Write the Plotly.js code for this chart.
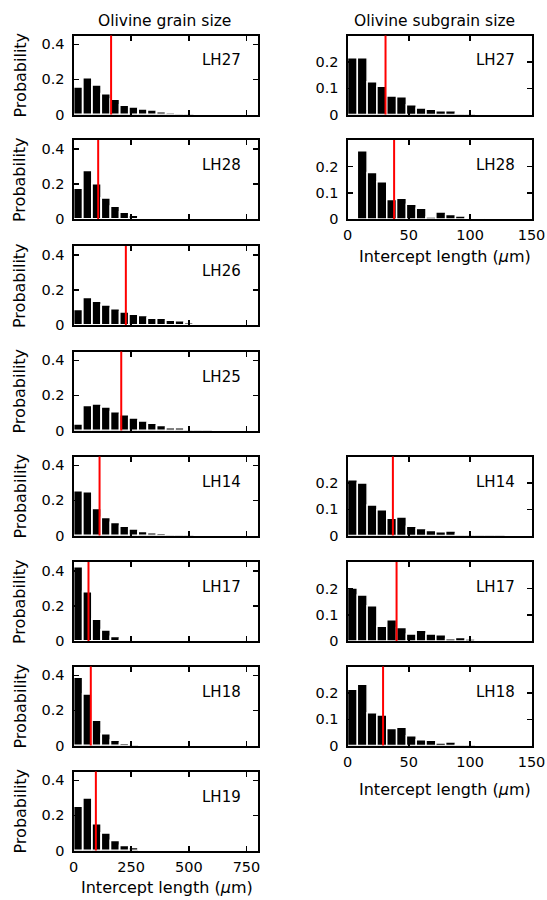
<!DOCTYPE html>
<html><head><meta charset="utf-8">
<script src="https://cdn.plot.ly/plotly-3.0.1.min.js"></script>
<style>html,body{margin:0;padding:0;background:#fff}</style>
</head><body><div id="chart" style="width:547px;height:900px"></div>
<script>
// ---- data ----
const grainBins = [20,60,100,140,180,220,260,300,340,380,420,460,500,540,580,620,660,700];
const subgrainBins = [4,12,20,28,36,44,52,60,68,76,84,92,100,108,116,124,132,140];

const grainSamples = ['LH27','LH28','LH26','LH25','LH14','LH17','LH18','LH19'];
const grainLH27 = [0.158,0.210,0.169,0.119,0.088,0.054,0.043,0.032,0.027,0.017,0.012,0.011,0.004];
const grainLH28 = [0.176,0.277,0.201,0.120,0.073,0.040,0.022,0.010,0.005];
const grainLH26 = [0.089,0.158,0.136,0.115,0.094,0.075,0.062,0.055,0.040,0.040,0.028,0.025,0.013,0.011,0.007,0.006,0.005,0.004];
const grainLH25 = [0.038,0.143,0.152,0.135,0.107,0.091,0.072,0.055,0.042,0.029,0.017,0.017,0.010,0.008,0.004];
const grainLH14 = [0.256,0.250,0.154,0.103,0.075,0.053,0.038,0.024,0.017,0.013,0.008,0.005,0.004];
const grainLH17 = [0.424,0.282,0.125,0.064,0.026,0.011,0.004];
const grainLH18 = [0.390,0.294,0.145,0.068,0.031,0.014,0.004];
const grainLH19 = [0.253,0.300,0.153,0.100,0.058,0.029,0.018];
const grainMean = [163,107,227,207,113,65,75,97];

const subgrainSamples = ['LH27','LH28','LH14','LH17','LH18'];
const subgrainRow = [0,1,4,5,6];
const subLH27 = [0.217,0.217,0.125,0.108,0.071,0.068,0.037,0.025,0.020,0.014,0.014,0.006,0.003];
const subLH28 = [0,0.261,0.178,0.142,0.075,0.079,0.056,0.041,0.008,0.027,0.017,0.011,0.006,0.002,0.004];
const subLH14 = [0.213,0.201,0.117,0.098,0.066,0.071,0.035,0.027,0.019,0.014,0.017,0.006,0.004,0.003,0.002,0.002];
const subLH17 = [0.203,0.176,0.135,0.056,0.081,0.052,0.027,0.041,0.027,0.024,0.009,0.013,0.008,0.003,0.004,0.002,0.002,0.002];
const subLH18 = [0.215,0.234,0.125,0.117,0.065,0.070,0.037,0.022,0.020,0.010,0.013,0.005,0.003];
const subgrainMean = [31,38,37,40,29];

const grainTicks = [0,250,500,750];
const subTicks = [0,50,100,150];
const grainYTicks = [0,0.2,0.4];
const grainYText = ['0','0.2','0.4'];
const subYTicks = [0,0.1,0.2];
const subYText = ['0','0.1','0.2'];

const grainSeries = [grainLH27,grainLH28,grainLH26,grainLH25,grainLH14,grainLH17,grainLH18,grainLH19];
const subSeries = [subLH27,subLH28,subLH14,subLH17,subLH18];

// ---- layout geometry (pixels) ----
const W = 547, H = 900;
const rowTops = [35.5,140,246,351.5,456.5,562,666.5,771.5];
const rowH = 79;
const leftX = [73.5,258];
const rightX = [347.5,531.5];
const FONT = 'DejaVu Sans, Arial, sans-serif';
const px = v => v / W;
const py = v => 1 - v / H;

const traces = [], shapes = [], annotations = [];
const layout = {
  width: W, height: H, margin: {l:0,r:0,t:0,b:0},
  paper_bgcolor:'#fff', plot_bgcolor:'#fff', showlegend:false,
  bargap: 0, font:{family:FONT, color:'#000', size:14.5}
};

let idx = 0;
function addPanel(xdom, row, bins, vals, width, xrange, xticks, yrange, yticks, ytext, showX, label, mean, lw) {
  idx++;
  const s = idx === 1 ? '' : String(idx);
  const top = rowTops[row], bot = top + rowH;
  traces.push({
    type:'bar', x: bins.slice(0, vals.length), y: vals, width: width,
    xaxis:'x'+s, yaxis:'y'+s,
    marker:{color:'#000', line:{color:'#fff', width:lw}}, hoverinfo:'skip'
  });
  const common = {showline:true, linewidth:2, linecolor:'#000', mirror:'ticks', ticks:'inside',
    ticklen:5, tickwidth:1.5, tickcolor:'#000', showgrid:false, zeroline:false, fixedrange:true,
    tickfont:{family:FONT, size:14.5, color:'#000'}, automargin:false};
  layout['xaxis'+s] = Object.assign({}, common, {
    domain:[px(xdom[0]), px(xdom[1])], range:xrange, anchor:'y'+s,
    tickvals:xticks, ticktext:xticks.map(String), showticklabels:showX, ticklabelstandoff:2
  });
  layout['yaxis'+s] = Object.assign({}, common, {
    domain:[py(bot), py(top)], range:yrange, anchor:'x'+s,
    tickvals:yticks, ticktext:ytext, ticklabelstandoff:4
  });
  shapes.push({type:'line', xref:'x'+s, yref:'y'+s+' domain', x0:mean, x1:mean, y0:0, y1:1,
    line:{color:'#ff0000', width:2}, layer:'above'});
  annotations.push({xref:'paper', yref:'paper', x:px(xdom[1]-15), y:py(top+25),
    xanchor:'right', yanchor:'middle', text:label, showarrow:false,
    font:{family:FONT, size:15, color:'#000'}});
}

grainSamples.forEach((name, i) => {
  addPanel(leftX, i, grainBins, grainSeries[i], 40, [0,800], grainTicks, [0,0.45],
    grainYTicks, grainYText, i === 7, name, grainMean[i], 1.8);
  annotations.push({xref:'paper', yref:'paper', x:px(19.5), y:py(rowTops[i]+rowH/2),
    xanchor:'center', yanchor:'middle', text:'Probability', textangle:-90, showarrow:false,
    font:{family:FONT, size:16, color:'#000'}});
});
subgrainSamples.forEach((name, i) => {
  addPanel(rightX, subgrainRow[i], subgrainBins, subSeries[i], 8, [0,150], subTicks, [0,0.302],
    subYTicks, subYText, i === 1 || i === 4, name, subgrainMean[i], 1.5);
});

// column titles
annotations.push({xref:'paper', yref:'paper', x:px(164), y:py(21),
  xanchor:'center', yanchor:'middle', text:'Olivine grain size', showarrow:false,
  font:{family:FONT, size:15.5, color:'#000'}});
annotations.push({xref:'paper', yref:'paper', x:px(434), y:py(21),
  xanchor:'center', yanchor:'middle', text:'Olivine subgrain size', showarrow:false,
  font:{family:FONT, size:15.5, color:'#000'}});
// x axis titles
const xTitle = 'Intercept length (<i>μ</i>m)';
[[166.5, 887], [444.5, 256.5], [444.5, 789]].forEach(([xc, yc]) => {
  annotations.push({xref:'paper', yref:'paper', x:px(xc), y:py(yc),
    xanchor:'center', yanchor:'middle', text:xTitle, showarrow:false,
    font:{family:FONT, size:16, color:'#000'}});
});

layout.shapes = shapes;
layout.annotations = annotations;
Plotly.newPlot('chart', traces, layout, {displayModeBar:false, staticPlot:true});
</script></body></html>
